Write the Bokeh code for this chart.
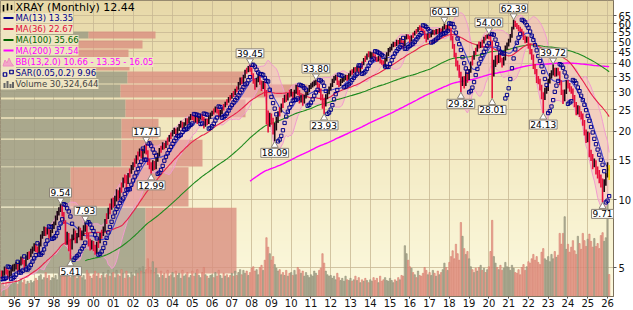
import numpy as np
from bokeh.plotting import figure
from bokeh.models import Range1d, FixedTicker, NumeralTickFormatter, Label, LinearScale
from bokeh.embed import file_html
from bokeh.resources import INLINE

# ---------------- data ----------------
start_year, start_month = 1991, 5      # first close of the history (used by the long MAs)
window_year, window_month = 1995, 5    # first bar drawn

closes_before_window = [
    3.6, 3.7, 3.9, 4.0, 4.1, 4.0, 4.2, 4.4,
    4.5, 4.6, 4.4, 4.3, 4.2, 4.3, 4.4, 4.3, 4.2, 4.4, 4.5, 4.6,
    4.7, 4.5, 4.3, 4.1, 4.0, 3.9, 4.0, 4.1, 4.0, 3.8, 3.9, 4.1,
    4.2, 4.1, 3.9, 3.8, 4.0, 4.1, 4.2, 4.3, 4.1, 4.2, 4.3, 4.4,
    4.4, 4.5, 4.6, 4.7,
]

closes = [
    4.6, 4.7, 4.9, 4.8, 4.6, 4.7, 4.9, 5.0,                              # 1995
    5.0, 5.1, 4.9, 5.2, 5.4, 5.3, 5.1, 5.5, 5.7, 5.6, 5.9, 6.0,          # 1996
    6.2, 6.0, 5.9, 6.3, 6.8, 7.0, 7.4, 7.1, 7.3, 6.9, 7.2, 7.6,          # 1997
    7.8, 8.3, 8.7, 9.0, 9.3, 8.6, 8.0, 6.6, 6.9, 6.4, 6.1, 6.8,          # 1998
    7.2, 6.6, 6.9, 7.4, 6.8, 7.1, 7.5, 7.6, 6.9, 6.5, 6.2, 6.4,          # 1999
    6.1, 5.9, 6.3, 6.2, 6.9, 6.8, 7.4, 8.0, 7.9, 8.9, 8.7, 9.8,          # 2000
    9.5, 10.1, 10.8, 10.3, 11.0, 10.9, 12.2, 12.0, 11.9, 12.8, 12.7, 13.9,  # 2001
    14.2, 14.0, 15.3, 15.0, 16.4, 15.8, 16.3, 17.0, 16.2, 14.8, 14.2, 13.8,  # 2002
    14.5, 14.0, 15.0, 15.8, 16.5, 16.3, 17.5, 17.0, 17.8, 17.6, 18.9, 18.7,  # 2003
    19.8, 20.3, 19.6, 20.5, 21.2, 21.8, 21.0, 21.6, 22.5, 22.0, 22.8, 23.4,  # 2004
    23.0, 22.4, 23.1, 22.2, 23.0, 23.6, 22.9, 21.5, 22.4, 22.0, 23.2, 23.9,  # 2005
    24.2, 24.0, 25.3, 24.6, 23.9, 24.5, 25.2, 25.0, 26.6, 26.3, 27.9, 27.6,  # 2006
    29.0, 28.7, 30.3, 30.0, 32.5, 34.0, 33.2, 35.0, 36.8, 36.4, 38.2, 37.9,  # 2007
    35.5, 33.5, 32.0, 33.8, 35.2, 33.0, 31.5, 32.8, 30.0, 24.0, 22.0, 23.5,  # 2008
    22.5, 20.5, 21.0, 22.5, 24.0, 23.6, 26.0, 25.8, 28.5, 28.0, 29.0, 28.6,  # 2009
    29.5, 28.5, 30.0, 31.5, 30.0, 27.5, 28.5, 27.0, 28.5, 29.5, 30.5, 31.5,  # 2010
    32.0, 32.5, 33.0, 33.0, 32.0, 30.5, 28.5, 27.0, 26.5, 28.5, 30.0, 31.0,  # 2011
    32.0, 33.5, 34.5, 35.0, 33.0, 32.5, 33.5, 34.0, 34.5, 35.0, 34.5, 35.5,  # 2012
    36.5, 36.0, 37.8, 37.5, 38.5, 37.0, 38.5, 38.2, 41.5, 41.0, 43.5, 43.0,  # 2013
    43.0, 44.0, 43.5, 42.0, 41.5, 42.5, 41.0, 40.5, 40.0, 41.5, 44.0, 46.0,  # 2014
    46.5, 48.0, 49.0, 48.5, 50.0, 49.5, 51.0, 50.0, 48.5, 52.0, 53.0, 52.5,  # 2015
    51.5, 52.5, 52.2, 55.0, 54.5, 57.0, 56.5, 56.0, 55.5, 53.0, 52.0, 53.5,  # 2016
    53.0, 54.5, 55.5, 54.5, 56.0, 55.0, 56.5, 55.5, 57.5, 58.5, 57.0, 58.5,  # 2017
    57.0, 52.0, 48.0, 44.0, 40.0, 38.5, 36.0, 33.0, 34.0, 32.5, 36.0, 34.5,  # 2018
    37.0, 40.0, 39.5, 44.5, 44.0, 47.5, 47.0, 48.0, 47.3, 51.5, 51.0, 53.0,  # 2019
    52.5, 50.0, 38.5, 40.0, 42.5, 41.0, 43.5, 41.5, 40.0, 42.0, 47.0, 48.5,  # 2020
    50.5, 53.0, 57.0, 60.5, 59.5, 58.0, 57.0, 56.0, 54.5, 52.0, 50.5, 51.5,  # 2021
    48.0, 45.5, 43.0, 39.0, 37.0, 34.0, 33.5, 31.5, 29.0, 28.5, 30.5, 31.0,  # 2022
    33.5, 35.5, 36.5, 37.5, 36.0, 37.5, 36.5, 33.0, 30.0, 28.0, 30.0, 33.0,  # 2023
    32.0, 31.0, 30.5, 28.5, 26.5, 24.5, 25.5, 24.0, 23.5, 22.0, 20.0, 18.5,  # 2024
    19.5, 16.0, 15.5, 14.5, 14.5, 13.5, 13.0, 12.5, 12.0, 11.2, 11.8, 12.8,  # 2025
    13.9, 12.44,                                                          # 2026
]

highs = [
    4.85, 4.85, 5.05, 5.0, 4.9, 4.85, 5.05, 5.15,
    5.2, 5.3, 5.2, 5.35, 5.6, 5.55, 5.4, 5.65, 5.85, 5.9, 6.05, 6.2,
    6.4, 6.35, 6.2, 6.45, 7.0, 7.25, 7.6, 7.55, 7.5, 7.45, 7.35, 7.8,
    8.0, 8.5, 8.9, 9.25, 9.54, 9.4, 8.8, 8.1, 7.2, 7.1, 6.7, 7.0,
    7.45, 7.3, 7.1, 7.6, 7.5, 7.3, 7.7, 7.93, 7.7, 7.1, 6.7, 6.6,
    6.55, 6.3, 6.5, 6.8, 7.1, 7.35, 7.6, 8.2, 8.7, 9.2, 9.6, 10.1,
    10.2, 10.4, 11.1, 11.0, 11.3, 11.9, 12.5, 12.9, 12.8, 13.1, 13.7, 14.2,
    14.6, 15.2, 15.7, 16.3, 16.8, 16.7, 16.8, 17.4, 17.71, 16.5, 15.2, 14.6,
    14.9, 14.8, 15.3, 16.1, 16.9, 17.3, 17.9, 17.8, 18.2, 18.8, 19.3, 19.8,
    20.3, 20.8, 20.6, 20.9, 21.6, 22.3, 22.1, 22.0, 22.9, 22.9, 23.3, 23.9,
    23.8, 23.4, 23.5, 23.4, 23.4, 24.0, 23.9, 23.2, 22.8, 22.8, 23.6, 24.3,
    24.7, 25.3, 25.8, 25.6, 25.0, 24.9, 25.6, 26.5, 27.1, 27.8, 28.4, 29.0,
    29.6, 30.2, 30.9, 31.6, 33.1, 34.7, 34.8, 35.7, 37.5, 38.3, 39.0, 39.45,
    38.4, 36.2, 34.2, 34.5, 35.9, 35.6, 33.6, 33.5, 33.3, 30.5, 24.8, 24.2,
    24.0, 23.0, 21.8, 23.2, 24.6, 25.6, 26.6, 28.1, 29.1, 29.2, 29.6, 30.6,
    30.8, 30.0, 30.6, 32.2, 32.0, 30.5, 29.1, 29.0, 29.1, 30.1, 31.1, 32.1,
    32.7, 33.2, 33.6, 33.80, 33.5, 32.6, 31.0, 29.2, 28.2, 29.2, 30.6, 31.6,
    32.7, 34.2, 35.2, 35.7, 35.4, 33.6, 34.2, 34.7, 35.2, 35.7, 35.6, 36.2,
    37.2, 37.7, 38.5, 38.6, 39.2, 39.0, 39.2, 40.8, 42.3, 43.3, 44.3, 45.3,
    45.2, 44.8, 44.8, 44.0, 42.8, 43.3, 43.0, 41.6, 41.2, 42.3, 44.8, 46.8,
    47.4, 48.9, 49.9, 49.8, 50.9, 50.8, 51.9, 51.8, 50.6, 52.9, 53.9, 53.8,
    53.0, 53.4, 54.9, 55.9, 56.9, 58.0, 59.0, 58.6, 57.2, 56.0, 54.2, 54.4,
    54.4, 55.4, 56.4, 56.2, 56.9, 56.8, 57.4, 57.2, 58.4, 60.19, 59.2, 59.4,
    59.8, 57.5, 53.0, 48.8, 44.6, 41.2, 39.5, 36.8, 35.0, 35.2, 36.8, 36.6,
    37.8, 40.8, 43.4, 45.4, 46.9, 48.5, 50.0, 49.9, 51.0, 52.5, 53.5, 53.8,
    54.00, 53.6, 50.5, 41.6, 43.4, 43.6, 44.4, 44.2, 42.4, 42.8, 48.0, 49.5,
    51.5, 54.0, 58.1, 62.39, 61.8, 60.4, 59.2, 58.2, 57.0, 55.4, 53.2, 52.6,
    52.5, 49.0, 46.4, 43.8, 39.8, 37.8, 35.2, 34.2, 32.2, 29.8, 31.2, 31.7,
    34.2, 36.3, 37.3, 39.72, 38.3, 38.3, 38.3, 37.0, 33.7, 30.6, 30.7, 33.7,
    33.8, 32.8, 31.7, 31.0, 29.0, 27.0, 26.1, 26.0, 24.6, 24.0, 22.5, 20.4,
    20.0, 19.8, 16.6, 15.9, 15.2, 14.9, 14.0, 13.5, 12.9, 12.4, 12.3, 13.1,
    14.6, 14.2,
]

lows = [
    4.45, 4.5, 4.6, 4.65, 4.45, 4.5, 4.6, 4.8,
    4.8, 4.9, 4.75, 4.85, 5.1, 5.15, 4.9, 5.05, 5.4, 5.45, 5.55, 5.75,
    5.9, 5.85, 5.7, 5.8, 6.2, 6.7, 6.9, 6.9, 7.0, 6.7, 6.8, 7.1,
    7.4, 7.7, 8.1, 8.5, 8.8, 8.4, 7.8, 6.3, 6.3, 5.9, 5.41, 6.0,
    6.6, 6.4, 6.4, 6.8, 6.6, 6.6, 6.9, 7.2, 6.7, 6.2, 5.95, 6.0,
    5.9, 5.7, 5.75, 6.1, 6.4, 6.7, 6.9, 7.2, 7.8, 8.2, 8.6, 9.0,
    9.2, 9.3, 9.8, 9.9, 10.1, 10.7, 11.3, 11.8, 11.1, 11.7, 12.5, 13.0,
    13.5, 13.9, 14.4, 14.9, 15.5, 15.2, 15.0, 16.0, 15.8, 14.2, 13.6, 12.99,
    13.4, 13.5, 13.6, 14.7, 15.5, 16.1, 16.6, 16.7, 16.9, 17.4, 18.0, 18.5,
    19.0, 19.5, 19.1, 19.3, 20.1, 20.8, 20.4, 20.6, 21.2, 21.4, 21.7, 22.4,
    22.4, 21.9, 21.9, 21.6, 21.8, 22.6, 22.3, 20.6, 21.0, 21.3, 21.6, 22.8,
    23.4, 23.8, 24.3, 24.0, 23.0, 23.2, 23.9, 24.8, 25.6, 26.1, 26.8, 27.4,
    27.9, 28.4, 29.0, 29.8, 30.6, 32.0, 32.4, 32.6, 34.4, 36.0, 36.6, 36.8,
    34.2, 32.5, 30.6, 31.4, 33.0, 32.2, 30.2, 30.8, 28.6, 21.5, 19.8, 21.0,
    21.4, 19.4, 18.09, 20.2, 21.8, 23.3, 24.3, 25.4, 26.8, 27.0, 27.4, 28.3,
    28.6, 27.6, 28.0, 29.4, 29.0, 26.6, 26.9, 26.0, 26.6, 28.0, 28.9, 29.8,
    30.8, 31.3, 31.7, 32.0, 31.0, 29.6, 27.5, 25.2, 23.93, 25.8, 27.8, 29.2,
    30.4, 31.5, 32.8, 33.6, 32.1, 31.4, 31.8, 32.8, 33.2, 33.7, 33.5, 33.9,
    35.0, 35.7, 36.2, 36.4, 36.8, 36.0, 36.5, 37.8, 39.3, 40.6, 41.6, 42.6,
    42.0, 42.2, 42.5, 41.0, 40.6, 40.8, 40.0, 39.5, 38.8, 38.6, 40.8, 43.2,
    44.8, 45.6, 47.2, 47.4, 47.8, 48.5, 48.8, 48.6, 46.5, 47.8, 51.1, 51.2,
    49.0, 50.0, 51.8, 53.2, 54.1, 55.0, 56.1, 55.6, 54.3, 51.4, 49.5, 51.0,
    51.9, 52.3, 53.6, 53.4, 53.8, 54.0, 54.2, 54.3, 54.8, 56.5, 55.8, 56.0,
    55.5, 50.5, 46.5, 42.6, 38.8, 37.2, 34.6, 29.82, 31.8, 31.0, 31.8, 32.9,
    33.8, 36.4, 39.2, 41.6, 43.6, 45.1, 46.6, 46.8, 47.0, 49.0, 50.5, 51.4,
    51.2, 47.5, 28.01, 35.0, 38.6, 39.6, 40.2, 40.4, 38.4, 39.2, 41.2, 46.0,
    47.6, 49.5, 52.0, 56.5, 58.0, 56.8, 55.6, 54.8, 53.2, 50.8, 49.2, 49.4,
    46.5, 44.0, 41.6, 37.8, 35.8, 32.8, 32.4, 30.4, 27.8, 24.13, 27.6, 29.4,
    30.2, 32.6, 34.3, 35.4, 34.9, 35.0, 35.4, 32.0, 29.0, 26.5, 27.2, 29.3,
    31.0, 30.0, 29.4, 27.5, 25.6, 23.6, 23.8, 23.2, 22.6, 21.2, 19.2, 17.8,
    17.9, 15.4, 14.8, 13.6, 13.9, 12.9, 12.4, 11.8, 11.3, 9.71, 10.8, 11.5,
    12.5, 12.2,
]

volumes_m = [
    17, 19, 14, 18, 15, 21, 17, 19,
    18, 22, 17, 21, 25, 19, 23, 17, 21, 18, 22, 19,
    21, 25, 22, 28, 30, 23, 26, 33, 25, 29, 22, 26,
    25, 29, 23, 32, 28, 35, 30, 41, 33, 37, 26, 30,
    28, 33, 25, 30, 35, 26, 29, 23, 36, 32, 28, 25,
    30, 35, 28, 32, 25, 29, 33, 26, 30, 36, 28, 32,
    33, 26, 36, 30, 28, 37, 32, 25, 35, 29, 26, 33,
    30, 28, 36, 32, 39, 35, 41, 33, 37, 52, 40, 36,
    48, 33, 39, 30, 26, 35, 29, 32, 25, 36, 28, 30,
    33, 26, 35, 29, 32, 25, 36, 28, 30, 33, 26, 29,
    35, 28, 32, 37, 29, 26, 33, 40, 30, 28, 25, 29,
    30, 26, 33, 28, 36, 29, 25, 32, 28, 30, 26, 29,
    32, 28, 35, 29, 33, 37, 30, 36, 32, 35, 29, 33,
    39, 41, 35, 37, 30, 40, 43, 36, 50, 81, 68, 59,
    50, 55, 44, 39, 35, 37, 30, 33, 29, 36, 28, 32,
    33, 29, 36, 30, 40, 37, 32, 35, 28, 33, 29, 26,
    30, 28, 35, 32, 29, 36, 39, 59, 46, 35, 30, 28,
    29, 25, 28, 23, 32, 26, 22, 25, 21, 28, 23, 22,
    25, 21, 23, 28, 22, 26, 19, 23, 21, 25, 22, 19,
    23, 21, 26, 22, 25, 19, 28, 21, 23, 26, 22, 21,
    25, 22, 19, 23, 21, 26, 23, 29, 28, 70, 59, 50,
    41, 39, 33, 30, 26, 35, 29, 28, 32, 40, 36, 30,
    33, 29, 36, 32, 28, 35, 30, 33, 37, 46, 40, 36,
    47, 55, 63, 52, 72, 59, 50, 102, 83, 66, 58, 62,
    52, 41, 37, 33, 39, 35, 40, 43, 36, 39, 33, 37,
    41, 62, 105, 55, 46, 40, 37, 43, 36, 39, 47, 41,
    40, 36, 43, 39, 33, 32, 37, 30, 40, 44, 36, 41,
    48, 46, 52, 58, 50, 55, 47, 44, 61, 66, 52, 50,
    55, 48, 58, 52, 62, 54, 57, 87, 72, 87, 110, 65,
    72, 61, 68, 77, 63, 58, 83, 73, 65, 87, 77, 69,
    79, 86, 76, 68, 80, 69, 73, 66, 84, 88, 76, 81,
    132, 30.32,
]

# labelled swing highs / lows: (kind, year, month)
extremes = [("H", 1998, 5), ("L", 1998, 11), ("H", 1999, 8), ("H", 2002, 9), ("L", 2002, 12),
            ("H", 2007, 12), ("L", 2009, 3), ("H", 2011, 4), ("L", 2011, 9), ("H", 2017, 10),
            ("L", 2018, 8), ("H", 2020, 1), ("L", 2020, 3), ("H", 2021, 4), ("L", 2022, 10),
            ("H", 2023, 4), ("L", 2025, 10)]

# volume-by-price zones (price bounds) and their up / down volume
vbp_low = [4.7, 9.3, 14.0, 18.6, 23.1, 28.3, 32.6, 37.2, 42.6, 46.6, 51.6]
vbp_high = [9.2, 13.9, 18.4, 22.8, 27.7, 32.3, 36.9, 42.2, 46.1, 50.6, 55.4]
vbp_up = [145, 70, 121, 121, 125, 120, 127, 65, 70, 70, 88]
vbp_down = [91, 118, 81, 37, 120, 187, 118, 64, 58, 72, 67]

price_ticks = [5, 10, 15, 20, 25, 30, 35, 40, 45, 50, 55, 60, 65]
year_ticks = list(range(1996, 2027))

legend_texts = ["XRAY (Monthly) 12.44", "MA(13) 13.35", "MA(36) 22.67", "MA(100) 35.66",
                "MA(200) 37.54", "BB(13,2.0) 10.66 - 13.35 - 16.05", "SAR(0.05,0.2) 9.96",
                "Volume 30,324,644"]

# ---------------- indicators ----------------
def sma(a, n):
    out = np.full(len(a), np.nan)
    c = np.cumsum(np.insert(a, 0, 0.0))
    out[n - 1:] = (c[n:] - c[:-n]) / n
    return out


def rolling_std(a, n):
    out = np.full(len(a), np.nan)
    for i in range(n - 1, len(a)):
        out[i] = np.std(a[i - n + 1:i + 1])
    return out


def parabolic_sar(h, l, step, cap):
    n = len(h)
    sar = np.empty(n)
    up = True
    af = step
    ep = h[0]
    sar[0] = l[0]
    for i in range(1, n):
        s = sar[i - 1] + af * (ep - sar[i - 1])
        if up:
            s = min(s, l[i - 1], l[max(i - 2, 0)])
            if l[i] < s:
                up, s, ep, af = False, ep, l[i], step
            elif h[i] > ep:
                ep, af = h[i], min(af + step, cap)
        else:
            s = max(s, h[i - 1], h[max(i - 2, 0)])
            if h[i] > s:
                up, s, ep, af = True, ep, h[i], step
            elif l[i] < ep:
                ep, af = l[i], min(af + step, cap)
        sar[i] = s
    return sar


hist = np.array(closes_before_window + closes, dtype=float)
npre = len(closes_before_window)
N = len(closes)
t_all = start_year + (start_month - 1 + np.arange(len(hist))) / 12.0
t = t_all[npre:]
H = np.array(highs, dtype=float)
L = np.array(lows, dtype=float)
C = hist[npre:]
prev = hist[npre - 1:-1]
is_up = C >= prev

ma13 = sma(hist, 13)[npre:]
ma36 = sma(hist, 36)[npre:]
ma100 = sma(hist, 100)[npre:]
ma200 = sma(hist, 200)[npre:]
sd13 = rolling_std(hist, 13)[npre:]
bb_up = ma13 + 2 * sd13
bb_lo = ma13 - 2 * sd13
sar = parabolic_sar(H, L, 0.05, 0.2)

# ---------------- figure ----------------
FW, FH = 613, 296
Y0, Y1 = 3.721, 76.0
p = figure(frame_width=FW, frame_height=FH, x_range=Range1d(1995.297, 2026.303),
           y_range=Range1d(Y0, Y1), y_axis_type="log", y_axis_location="right",
           toolbar_location=None, output_backend="svg",
           min_border_left=0, min_border_top=0, min_border_right=20, min_border_bottom=14,
           border_fill_color="white", background_fill_color="#f2e8c2")
p.extra_x_ranges = {"px": Range1d(0, FW)}
p.extra_y_ranges = {"py": Range1d(FH, 0), "vol": Range1d(0, 408)}
p.extra_x_scales = {"px": LinearScale()}
p.extra_y_scales = {"py": LinearScale(), "vol": LinearScale()}
p.outline_line_color = "#7d715c"

# background gradient
nstrip = 74
stops = [(0.0, (231, 216, 168)), (0.5, (243, 234, 195)), (1.0, (252, 249, 222))]


def grad(f):
    for (a, ca), (b, cb) in zip(stops[:-1], stops[1:]):
        if f <= b:
            u = (f - a) / (b - a)
            c = [int(round(ca[k] + u * (cb[k] - ca[k]))) for k in range(3)]
            return "#%02x%02x%02x" % tuple(c)
    return "#%02x%02x%02x" % stops[-1][1]


sh = FH / nstrip
bg = p.quad(left=0, right=FW, top=[k * sh for k in range(nstrip)],
            bottom=[(k + 1) * sh + 0.5 for k in range(nstrip)],
            fill_color=[grad((k + 0.5) / nstrip) for k in range(nstrip)], line_color=None,
            x_range_name="px", y_range_name="py")
bg.level = "image"

for g in (p.xgrid, p.ygrid):
    g.grid_line_color = "#c8b894"
    g.grid_line_alpha = 0.8
p.xgrid.ticker = FixedTicker(ticks=year_ticks)
p.ygrid.ticker = FixedTicker(ticks=price_ticks)

# axes
p.xaxis.ticker = FixedTicker(ticks=year_ticks)
p.xaxis.major_label_overrides = {y: "%02d" % (y % 100) for y in year_ticks}
p.yaxis.ticker = FixedTicker(ticks=price_ticks)
p.yaxis.formatter = NumeralTickFormatter(format="0")
for ax in (p.xaxis[0], p.yaxis[0]):
    ax.major_label_text_font = "DejaVu Sans"
    ax.major_label_text_font_size = "10px"
    ax.major_label_text_color = "#111111"
    ax.axis_line_color = "#7d715c"
    ax.major_tick_line_color = "#555555"
    ax.minor_tick_line_color = None
    ax.major_tick_in = 0
p.xaxis.major_tick_out = 2
p.xaxis.major_label_standoff = 0
p.yaxis.major_tick_out = 3
p.yaxis.major_label_standoff = 2

# volume by price
vbp_tot = [u + d for u, d in zip(vbp_up, vbp_down)]
p.quad(left=0, right=vbp_up, bottom=vbp_low, top=vbp_high, x_range_name="px",
       fill_color="#9d9c84", fill_alpha=0.85, line_color=None)
p.quad(left=vbp_up, right=vbp_tot, bottom=vbp_low, top=vbp_high, x_range_name="px",
       fill_color="#da8e80", fill_alpha=0.8, line_color=None)

# volume
vfill = ["#aaa991" if u else "#e9a091" for u in is_up]
vline = ["#8f8d76" if u else "#d57c6b" for u in is_up]
p.vbar(x=t, width=1 / 12 * 0.8, top=volumes_m, bottom=0, y_range_name="vol",
       fill_color=vfill, line_color=vline, line_width=0.6, fill_alpha=0.85)

# Bollinger band
ok = ~np.isnan(bb_up)
p.varea(x=t[ok], y1=bb_lo[ok], y2=bb_up[ok], fill_color="#f6b4c4", fill_alpha=0.45)
p.line(t[ok], bb_up[ok], line_color="#f19bd0", line_width=1)
p.line(t[ok], bb_lo[ok], line_color="#f19bd0", line_width=1)

# moving averages
p.line(t, ma200, line_color="#ff00ff", line_width=1.4)
p.line(t, ma100, line_color="#1f8a1f", line_width=1.1)
p.line(t, ma36, line_color="#e8204a", line_width=1.1)
p.line(t, ma13, line_color="#4444cc", line_width=1.1)

# price bars
bcol = ["#1c0814" if u else "#e6103c" for u in is_up]
bcol[-1] = "#f2d400"
p.segment(x0=t, y0=L, x1=t, y1=H, line_color=bcol, line_width=1.6)

# parabolic SAR
p.scatter(t, sar, marker="square", size=3.3, line_color="#00008b", line_width=1.0,
          fill_alpha=0)

# labels on swing highs / lows
ppd = FH / np.log2(Y1 / Y0)
for kind, yr, mo in extremes:
    i = (yr - window_year) * 12 + (mo - window_month)
    if kind == "H":
        v = H[i]
        p.scatter([t[i]], [v * 2 ** (4.0 / ppd)], marker="inverted_triangle", size=7,
                  fill_color="white", line_color="#8c8478", line_width=1)
        p.add_layout(Label(x=t[i], y=v, y_offset=7, text="%.2f" % v, text_align="center",
                           text_baseline="bottom", text_font="DejaVu Sans",
                           text_font_size="9px", text_color="#000000",
                           background_fill_color="white", border_line_color="#8c8478",
                           padding=1))
    else:
        v = L[i]
        p.scatter([t[i]], [v * 2 ** (-4.0 / ppd)], marker="triangle", size=7,
                  fill_color="white", line_color="#8c8478", line_width=1)
        p.add_layout(Label(x=t[i], y=v, y_offset=-7, text="%.2f" % v, text_align="center",
                           text_baseline="top", text_font="DejaVu Sans",
                           text_font_size="9px", text_color="#000000",
                           background_fill_color="white", border_line_color="#8c8478",
                           padding=1))

# legend (pixel coordinates inside the frame)
LEG_BG = "#efe5c2"
rows_y = [7, 17.5, 28.5, 39.5, 50, 61.5, 72.5, 83.5]
row_colors = ["#000000", "#00008b", "#e0103a", "#006400", "#ff00ff", "#ff00ff", "#00008b",
              "#444444"]
p.quad(left=0, right=15.5, top=12.5, bottom=89, fill_color=LEG_BG, line_color=None,
       x_range_name="px", y_range_name="py")
for k, (txt, yy, col) in enumerate(zip(legend_texts, rows_y, row_colors)):
    p.add_layout(Label(x=15, y=yy, text=txt, x_range_name="px", y_range_name="py",
                       text_baseline="middle", text_font="DejaVu Sans",
                       text_font_size="11px" if k == 0 else "8.5px", text_color=col,
                       background_fill_color=LEG_BG if k > 0 else None,
                       background_fill_alpha=1.0))
# legend icons
p.segment(x0=[3, 7, 11], y0=[11, 10, 9.5], x1=[3, 7, 11], y1=[4.5, 3, 4.5],
          line_color="#000000", line_width=1.6, x_range_name="px", y_range_name="py")
p.segment(x0=[3, 3, 3, 3], y0=rows_y[1:5], x1=[13, 13, 13, 13], y1=rows_y[1:5],
          line_color=row_colors[1:5], line_width=2, x_range_name="px", y_range_name="py")
by = rows_y[5]
p.patch(x=[2.5, 4.5, 6.5, 8.5, 10.5, 13], y=[by + 4, by - 2, by + 1, by - 4, by + 0.5, by + 4],
        fill_color="#f3a6c8", line_color="#f08cc0", x_range_name="px", y_range_name="py")
sy = rows_y[6]
p.scatter(x=[4.5, 11], y=[sy + 1.5, sy - 1], marker="square", size=3.5, line_color="#00008b",
          fill_alpha=0, line_width=1.2, x_range_name="px", y_range_name="py")
vy = rows_y[7]
p.segment(x0=[4, 7, 10, 12.5], y0=[vy + 4] * 4, x1=[4, 7, 10, 12.5],
          y1=[vy - 1, vy - 3, vy, vy - 2], line_color="#666666", line_width=2,
          x_range_name="px", y_range_name="py")

open("out.html", "w").write(file_html(p, INLINE))
